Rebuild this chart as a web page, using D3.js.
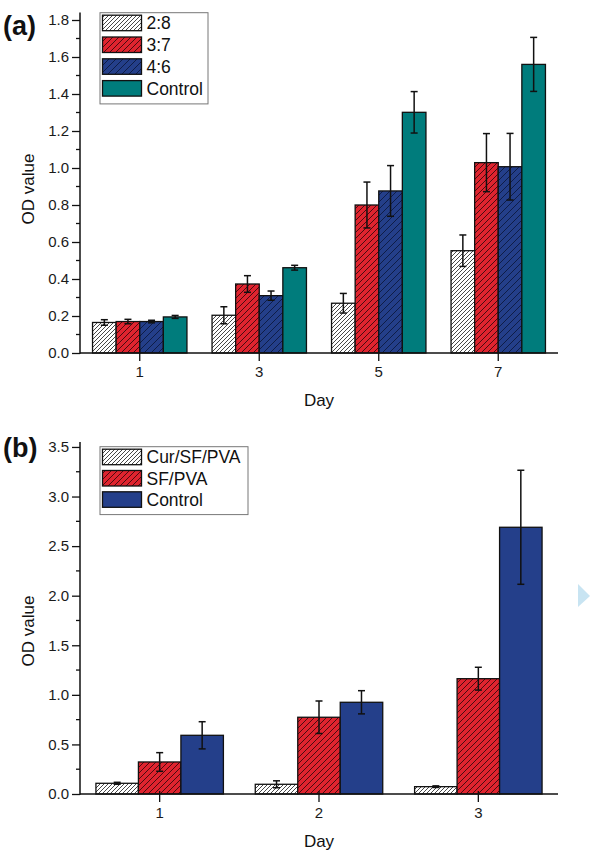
<!DOCTYPE html>
<html><head><meta charset="utf-8">
<script src="https://cdn.jsdelivr.net/npm/d3@7/dist/d3.min.js"></script>
<style>
body{margin:0;background:#fff;}
svg text{font-family:"Liberation Sans",Arial,sans-serif;fill:#222;}
</style></head>
<body><svg id="c" width="592" height="852"></svg>
<script>
// ---- Panel (a) data ----
const daysA = ["1","3","5","7"];
const seriesA = ["2:8","3:7","4:6","Control"];
const a28  = [0.165,0.204,0.269,0.553];
const a37  = [0.170,0.373,0.800,1.029];
const a46  = [0.170,0.310,0.876,1.007];
const aCtl = [0.195,0.461,1.301,1.560];
const e28  = [0.015,0.046,0.053,0.085];
const e37  = [0.012,0.045,0.124,0.157];
const e46  = [0.007,0.025,0.137,0.180];
const eCtl = [0.008,0.013,0.112,0.146];
const ticksA = [0,0.2,0.4,0.6,0.8,1.0,1.2,1.4,1.6,1.8];

// ---- Panel (b) data ----
const daysB = ["1","2","3"];
const seriesB = ["Cur/SF/PVA","SF/PVA","Control"];
const bCur = [0.108,0.098,0.074];
const bSF  = [0.323,0.774,1.163];
const bCtl = [0.592,0.925,2.690];
const eCur = [0.010,0.035,0.008];
const eSF  = [0.094,0.164,0.115];
const eCtlB= [0.137,0.117,0.575];
const ticksB = [0,0.5,1.0,1.5,2.0,2.5,3.0,3.5];

const svg = d3.select("#c");
const defs = svg.append("defs");
function hatch(id, bg, line, sp, w){
  const p = defs.append("pattern").attr("id",id).attr("patternUnits","userSpaceOnUse")
    .attr("width",sp).attr("height",sp);
  p.append("rect").attr("width",sp).attr("height",sp).attr("fill",bg);
  p.append("path").attr("d",`M0,${sp} L${sp},0 M${-sp/2},${sp/2} L${sp/2},${-sp/2} M${sp/2},${sp*1.5} L${sp*1.5},${sp/2}`)
    .attr("stroke",line).attr("stroke-width",w);
}
const RED="#e0242f", BLUE="#243f8a", TEAL="#007c7c";
hatch("hW","#ffffff","#333",4,0.9);
hatch("hR",RED,"#4a0c10",6,1);
hatch("hB",BLUE,"#0c1a40",7,0.9);

const fillsA = ["url(#hW)","url(#hR)","url(#hB)",TEAL];
const fillsB = ["url(#hW)","url(#hR)",BLUE];

function panel(cfg){
  const g = svg.append("g");
  const x = d3.scaleBand().domain(cfg.days).range([80,558]).paddingInner(0).paddingOuter(0);
  const bw = x.bandwidth();
  const xs = d3.scaleBand().domain(cfg.series).range([bw*cfg.gpad, bw*(1-cfg.gpad)]).padding(0);
  const y = d3.scaleLinear().domain([0,cfg.ymax]).range([cfg.y0,cfg.y1]);

  // bars
  cfg.series.forEach((s,si)=>{
    const vals = cfg.vals[si], errs = cfg.errs[si];
    const gs = g.append("g");
    gs.selectAll("rect").data(cfg.days).join("rect")
      .attr("x",d=>x(d)+xs(s)).attr("width",xs.bandwidth())
      .attr("y",(d,i)=>y(vals[i])).attr("height",(d,i)=>y(0)-y(vals[i]))
      .attr("fill",cfg.fills[si]).attr("stroke","#111").attr("stroke-width",1.3);
    const eb = g.append("g").attr("stroke","#111").attr("stroke-width",1.5);
    cfg.days.forEach((d,i)=>{
      const cx = x(d)+xs(s)+xs.bandwidth()/2;
      const t = y(vals[i]+errs[i]), b = y(vals[i]-errs[i]);
      eb.append("line").attr("x1",cx).attr("x2",cx).attr("y1",t).attr("y2",b);
      eb.append("line").attr("x1",cx-3.5).attr("x2",cx+3.5).attr("y1",t).attr("y2",t);
      eb.append("line").attr("x1",cx-3.5).attr("x2",cx+3.5).attr("y1",b).attr("y2",b);
    });
  });

  // y axis
  const ya = d3.axisLeft(y).tickValues(cfg.ticks).tickFormat(d3.format(".1f")).tickSize(8).tickPadding(3);
  const yg = g.append("g").attr("transform","translate(80,0)").call(ya);
  yg.select(".domain").remove();
  yg.selectAll("line").attr("stroke","#111").attr("stroke-width",1.3);
  yg.selectAll("text").attr("font-size",15).style("fill","#1a1a1a");
  // minor ticks
  const step = cfg.ticks[1]-cfg.ticks[0];
  const minors = cfg.ticks.map(t=>t+step/2).filter(t=>t<cfg.ymax);
  g.append("g").selectAll("line").data(minors).join("line")
    .attr("x1",76).attr("x2",80).attr("y1",d=>y(d)).attr("y2",d=>y(d))
    .attr("stroke","#111").attr("stroke-width",1.3);
  g.append("line").attr("x1",80).attr("x2",80).attr("y1",cfg.y1).attr("y2",cfg.y0+0.7)
    .attr("stroke","#111").attr("stroke-width",1.5);

  // x axis
  const xa = d3.axisBottom(x).tickSize(8).tickPadding(5);
  const xg = g.append("g").attr("transform",`translate(0,${cfg.y0})`).call(xa);
  xg.select(".domain").remove();
  xg.selectAll("line").attr("stroke","#111").attr("stroke-width",1.3).attr("y1",-3);
  xg.selectAll("text").attr("font-size",15).style("fill","#1a1a1a");
  g.append("line").attr("x1",80).attr("x2",558).attr("y1",cfg.y0).attr("y2",cfg.y0)
    .attr("stroke","#111").attr("stroke-width",1.5);

  // labels
  g.append("text").attr("x",319).attr("y",cfg.y0+53).attr("text-anchor","middle")
    .attr("font-size",17).style("fill","#111").text("Day");
  g.append("text").attr("transform",`translate(34,${cfg.odY}) rotate(-90)`).attr("text-anchor","middle")
    .attr("font-size",17).style("fill","#111").text("OD value");
  g.append("text").attr("x",3).attr("y",cfg.labY).attr("font-size",27).attr("font-weight","bold")
    .style("fill","#111").text(cfg.label);

  // legend
  const lg = g.append("g");
  const n = cfg.series.length;
  lg.append("rect").attr("x",100).attr("y",cfg.legY).attr("width",cfg.legW).attr("height",n*cfg.pitch+4)
    .attr("fill","#fff").attr("stroke","#777").attr("stroke-width",1);
  cfg.series.forEach((s,i)=>{
    const ry = cfg.legY+2.5+i*cfg.pitch;
    lg.append("rect").attr("x",102.5).attr("y",ry).attr("width",39).attr("height",15.5)
      .attr("fill",cfg.fills[i]).attr("stroke","#111").attr("stroke-width",1.3);
    lg.append("text").attr("x",146.5).attr("y",ry+14).attr("font-size",17.5).style("fill","#111").text(s);
  });
}

panel({days:daysA, series:seriesA, vals:[a28,a37,a46,aCtl], errs:[e28,e37,e46,eCtl],
  fills:fillsA, ticks:ticksA, ymax:1.84, y0:353, y1:12.6, gpad:0.105,
  label:"(a)", labY:35, odY:189, legY:12.7, legW:108, pitch:21.8});

panel({days:daysB, series:seriesB, vals:[bCur,bSF,bCtl], errs:[eCur,eSF,eCtlB],
  fills:fillsB, ticks:ticksB, ymax:3.55, y0:794, y1:442, gpad:0.1,
  label:"(b)", labY:457, odY:631, legY:446.7, legW:148, pitch:21.3});

// faint artifact triangle
svg.append("path").attr("d","M578,584 L590,596 L578,607 Z").attr("fill","#c8e4f2");
</script></body></html>
